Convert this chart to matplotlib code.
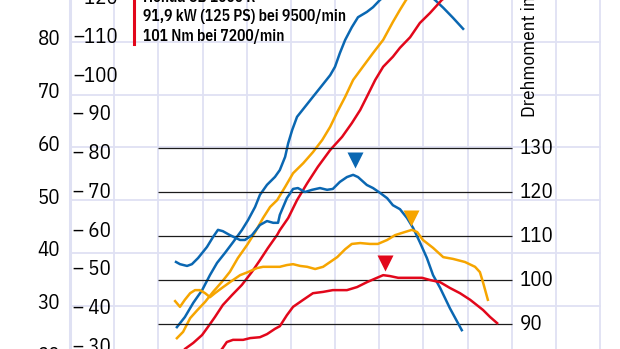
import matplotlib
matplotlib.use("Agg")
import matplotlib.pyplot as plt

# Leistung (kW) und Drehmoment (Nm) ueber Drehzahl (1/min)
blue_power_rpm = [2420, 2600, 2790, 2990, 3170, 3330, 3510, 3690, 3890, 4030, 4190, 4300, 4460, 4640,
                  4750, 4870, 4940, 5030, 5140, 5320, 5500, 5710, 5890, 6000, 6110, 6230, 6380, 6520,
                  6720, 6860, 7020, 7360, 7700, 8040, 8260, 8450, 8670, 8900]
blue_power_kw = [25.9, 27.8, 30.5, 32.9, 35.8, 38.1, 40.0, 42.0, 44.3, 46.2, 48.7, 51.0, 52.9, 54.4,
                 55.7, 58.2, 60.8, 63.3, 65.8, 67.7, 69.6, 71.8, 73.7, 75.3, 77.9, 80.4, 82.8, 84.7,
                 85.7, 86.6, 88.0, 90.3, 90.9, 89.5, 88.0, 86.5, 84.6, 82.5]

orange_power_rpm = [2420, 2560, 2720, 2880, 3060, 3240, 3440, 3620, 3800, 4010, 4190, 4370, 4530, 4690,
                    4870, 5050, 5280, 5500, 5710, 5890, 6050, 6230, 6410, 6630, 6860, 7090, 7310, 7470,
                    7610, 7920, 8380, 8830, 9460]
orange_power_kw = [23.8, 25.0, 27.6, 29.1, 30.7, 32.6, 34.5, 36.4, 39.0, 41.5, 43.9, 46.6, 48.7, 50.0,
                   52.5, 55.1, 57.0, 59.1, 61.4, 63.9, 66.7, 69.6, 72.8, 75.3, 77.9, 80.4, 83.8, 86.1,
                   88.0, 90.8, 93.3, 94.6, 94.6]

red_power_rpm = [2400, 2600, 2790, 2990, 3120, 3280, 3460, 3670, 3890, 4120, 4300, 4480, 4690, 4750,
                 4940, 5140, 5370, 5610, 5890, 6160, 6380, 6570, 6720, 6910, 7090, 7310, 7470, 7700,
                 7920, 8150, 8420, 8830, 9500, 9670]
red_power_kw = [18.8, 21.75, 22.9, 24.4, 25.9, 27.8, 30.1, 32.0, 33.9, 36.4, 38.6, 40.9, 43.4, 44.3,
                46.6, 50.0, 53.2, 56.3, 59.5, 62.0, 64.6, 67.1, 69.6, 72.8, 75.3, 77.2, 78.9, 80.9,
                83.6, 85.5, 88.0, 90.3, 91.9, 91.5]

blue_torque_rpm = [2400, 2490, 2650, 2760, 2900, 3100, 3240, 3350, 3460, 3620, 3850, 3960, 4120, 4300,
                   4460, 4600, 4710, 4750, 4910, 5050, 5160, 5320, 5480, 5660, 5820, 5950, 6110, 6270,
                   6410, 6520, 6720, 6860, 7020, 7180, 7310, 7470, 7630, 7770, 7920, 8080, 8220, 8380,
                   8600, 8870]
blue_torque_nm = [104.1, 103.6, 103.2, 103.6, 105.0, 107.5, 109.8, 111.4, 111.1, 110.2, 109.1, 109.1,
                  110.2, 112.5, 113.4, 113.0, 113.0, 114.8, 118.6, 120.7, 120.9, 120.0, 120.5, 120.9,
                  120.5, 120.7, 122.3, 123.4, 123.9, 123.4, 121.6, 120.9, 119.8, 118.6, 117.0, 116.1,
                  114.1, 111.8, 108.6, 105.0, 101.1, 98.2, 93.6, 88.6]

orange_torque_rpm = [2380, 2490, 2600, 2720, 2830, 2940, 3060, 3170, 3280, 3440, 3620, 3850, 4030, 4230,
                     4370, 4600, 4750, 4910, 5050, 5210, 5370, 5550, 5730, 5890, 6050, 6230, 6380, 6570,
                     6790, 6970, 7180, 7360, 7580, 7740, 7860, 7990, 8220, 8450, 8670, 8940, 9170, 9280,
                     9350, 9460]
orange_torque_nm = [95.2, 93.9, 95.5, 97.0, 97.7, 97.7, 97.0, 96.1, 97.0, 98.2, 99.5, 101.1, 101.8, 102.7,
                    103.0, 103.0, 103.0, 103.4, 103.6, 103.2, 103.0, 102.5, 103.0, 104.1, 105.2, 107.0,
                    108.2, 108.4, 108.2, 108.2, 109.1, 110.2, 110.9, 111.4, 110.9, 109.1, 107.3, 105.2,
                    104.8, 104.1, 103.0, 101.8, 99.5, 95.5]

red_torque_rpm = [3280, 3440, 3550, 3690, 3920, 4080, 4300, 4460, 4640, 4750, 4910, 5050, 5280, 5500,
                  5730, 5950, 6270, 6500, 6720, 6950, 7090, 7240, 7430, 7700, 7970, 8150, 8380, 8600,
                  8830, 9060, 9350, 9510, 9670]
red_torque_nm = [82.7, 84.3, 85.9, 86.4, 86.4, 86.8, 87.0, 87.7, 88.9, 89.5, 92.0, 93.9, 95.5, 97.0,
                 97.3, 97.7, 97.7, 98.4, 99.5, 100.5, 101.1, 100.9, 100.5, 100.5, 100.5, 100.0, 99.5,
                 98.2, 97.0, 95.5, 93.2, 91.6, 90.2]

# Maximum-Markierungen (Dreiecke)
peak_rpm = [6450, 7720, 7130]
peak_nm = [127.3, 114.1, 103.9]

kw_ticks = [20, 30, 40, 50, 60, 70, 80, 90]
ps_ticks = [30, 40, 50, 60, 70, 80, 90, 100, 110, 120]
nm_ticks = [90, 100, 110, 120, 130]
rpm_grid = list(range(0, 13000, 1000))

legend_lines = ["Honda CB 1000 R", "91,9 kW (125 PS) bei 9500/min", "101 Nm bei 7200/min"]

blue = "#0a67b2"
orange = "#f6a500"
red = "#e2071b"
grid_color = "#dfe1f3"
font = ["IBM Plex Sans Condensed", "DejaVu Sans"]

fig = plt.figure(figsize=(6.2, 3.49), dpi=100)
ax = fig.add_axes([0, 0, 1, 1])
# pixel mapping: 0 1/min at x=70px, 44.17 px per 1000 1/min; 80 kW at y=42px, 5.27 px per kW
ax.set_xlim(-1585, 12452)
ax.set_ylim(21.75, 87.97)
ax.axis("off")

for r in rpm_grid:
    ax.axvline(r, color=grid_color, lw=2.2 if r == 0 else 1.3, zorder=0)
for k in kw_ticks:
    ax.plot([0, 12000], [k, k], color=grid_color, lw=1.3, zorder=0)

ax2 = ax.twinx()
ax2.set_ylim(84.32, 163.64)
ax2.axis("off")
ax2.hlines(nm_ticks, 2000, 10000, color="#1c1c1c", lw=0.9, zorder=1)

ax.plot(blue_power_rpm, blue_power_kw, color=blue, lw=1.8, zorder=3)
ax.plot(orange_power_rpm, orange_power_kw, color=orange, lw=1.8, zorder=3)
ax.plot(red_power_rpm, red_power_kw, color=red, lw=1.8, zorder=3)
ax2.plot(blue_torque_rpm, blue_torque_nm, color=blue, lw=1.8, zorder=3)
ax2.plot(orange_torque_rpm, orange_torque_nm, color=orange, lw=1.8, zorder=3)
ax2.plot(red_torque_rpm, red_torque_nm, color=red, lw=1.8, zorder=3)
for r, t, c in zip(peak_rpm, peak_nm, [blue, orange, red]):
    ax2.plot(r, t, marker="v", ms=11.5, color=c, mec="none", zorder=4)

# Achsbeschriftungen
for k in kw_ticks:
    ax.text(-226, k + 0.4, f"{k}", ha="right", va="center", fontsize=15, family=font)
for p in ps_ticks:
    label = f"–{p}" if p >= 100 else f"– {p}"
    ax.text(68, p / 1.36, label, ha="left", va="center", fontsize=15, family=font)
for t in nm_ticks:
    ax2.text(10190, t, f"{t}", ha="left", va="center", fontsize=15, family=font)
ax2.text(10415, 137, "Drehmoment in Nm", rotation=90, ha="center", va="bottom",
         fontsize=13.8, family=font)

# Legende
fig.add_artist(plt.Line2D([134 / 620, 134 / 620], [1 - 44 / 349, 1.05], color=red, lw=2.2))
for i, line in enumerate(legend_lines):
    fig.text(143 / 620, 1 - (-3 + 20 * i) / 349, line, ha="left", va="center",
             fontsize=11.2, fontweight="semibold", family=font)

fig.savefig("out.png", dpi=100)
